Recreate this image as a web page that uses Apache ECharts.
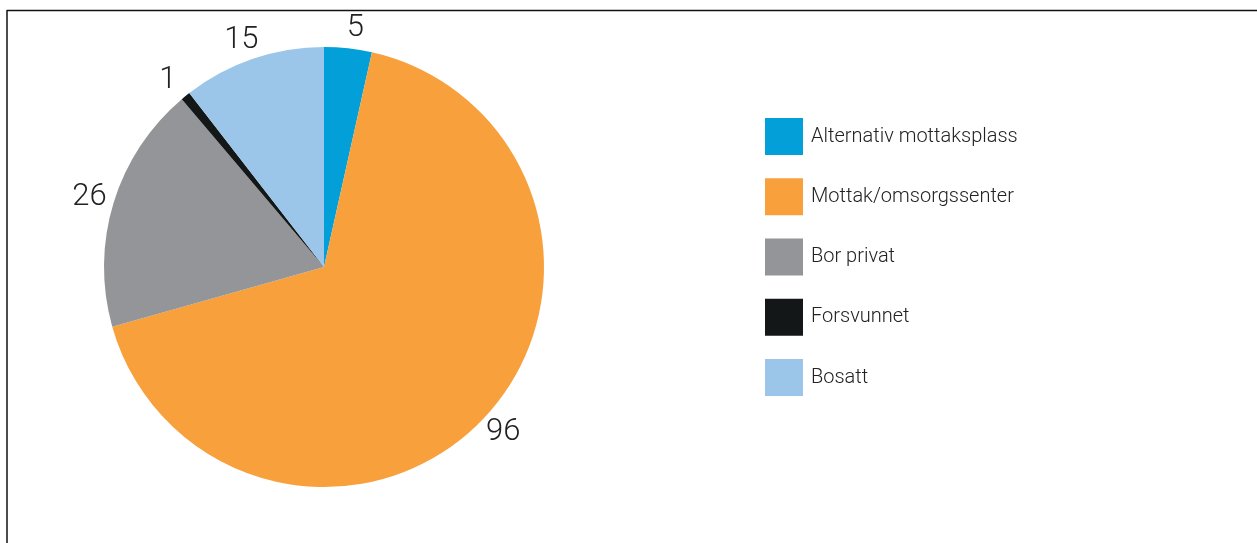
<!DOCTYPE html>
<html>
<head>
<meta charset="utf-8">
<script src="https://cdn.jsdelivr.net/npm/echarts@6/dist/echarts.min.js"></script>
<style>
html,body{margin:0;padding:0;background:#fff;}
#main{width:1257px;height:543px;}
</style>
</head>
<body>
<div id="main"></div>
<script>
var categories = ['Alternativ mottaksplass', 'Mottak/omsorgssenter', 'Bor privat', 'Forsvunnet', 'Bosatt'];
var values = [5, 96, 26, 1, 15];
var colors = ['#039FD9', '#F7A03C', '#939598', '#131718', '#9BC6E9'];

var FONT = '"Roboto", "Liberation Sans", sans-serif';

var chart = echarts.init(document.getElementById('main'), null, {renderer: 'canvas'});
chart.setOption({
  animation: false,
  backgroundColor: '#ffffff',
  color: colors,
  graphic: [
    {type: 'line', shape: {x1: 7, y1: 10.5, x2: 1257, y2: 10.5}, style: {stroke: '#111', lineWidth: 1.5}},
    {type: 'line', shape: {x1: 7, y1: 10, x2: 7, y2: 543}, style: {stroke: '#111', lineWidth: 1.5}}
  ],
  legend: {
    orient: 'vertical',
    left: 765,
    top: 118,
    padding: 0,
    itemWidth: 38,
    itemHeight: 37,
    itemGap: 23.25,
    icon: 'rect',
    selectedMode: false,
    data: categories,
    textStyle: {fontFamily: FONT, fontSize: 20, fontWeight: 300, color: '#222', padding: [4, 0, 0, 3]}
  },
  series: [{
    type: 'pie',
    center: [324, 267],
    radius: [0, 220],
    startAngle: 90,
    clockwise: true,
    avoidLabelOverlap: false,
    silent: true,
    data: categories.map(function (c, i) { return {name: c, value: values[i]}; }),
    label: {
      show: true,
      position: 'outside',
      formatter: '{c}',
      fontFamily: FONT,
      fontSize: 31,
      fontWeight: 300,
      color: '#222'
    },
    labelLine: {show: false, length: 20, length2: 0},
    labelLayout: function () { return {align: 'center', verticalAlign: 'middle'}; }
  }]
});
</script>
</body>
</html>
